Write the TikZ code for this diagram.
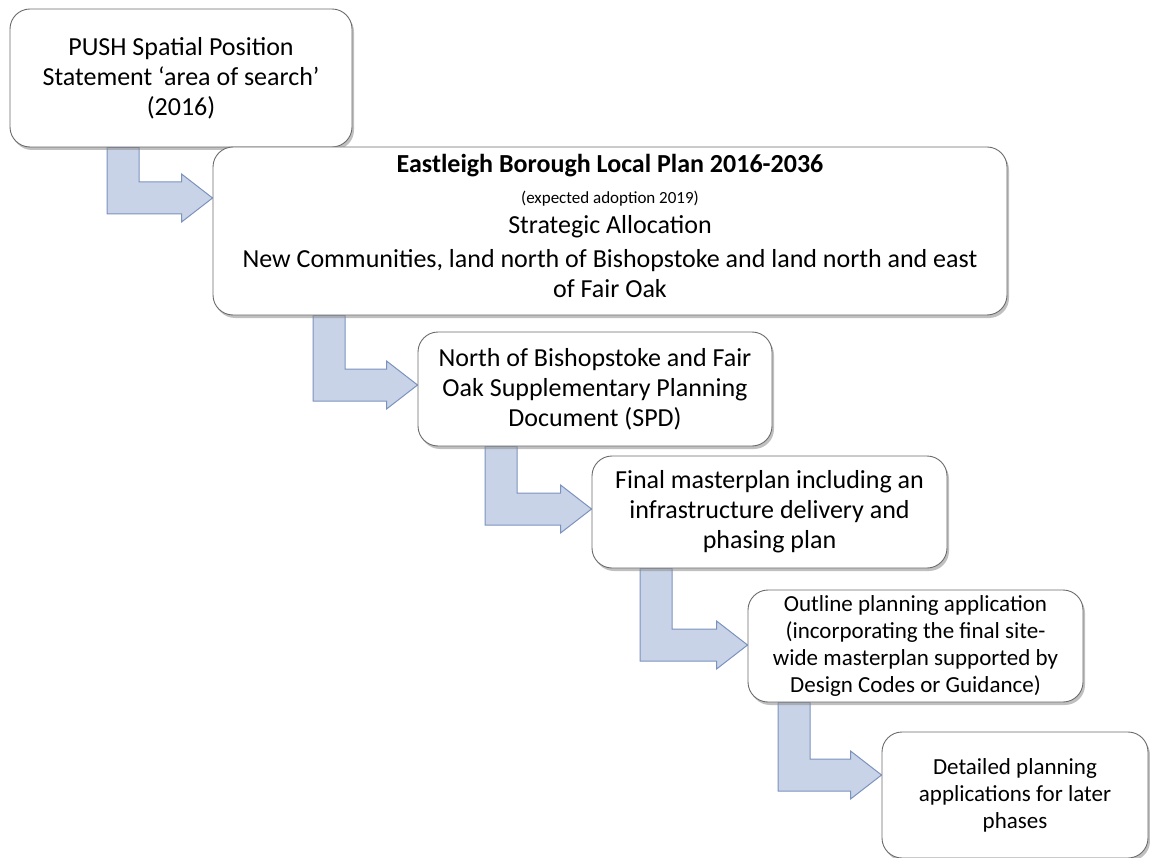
\documentclass[tikz,border=0pt]{standalone}
\usepackage{fontspec}
\setmainfont{Carlito}
\usepackage{tikz}
\usetikzlibrary{calc,shadows,backgrounds}
\definecolor{BoxLine}{rgb}{0.42,0.42,0.42}
\definecolor{ArrowFill}{RGB}{200,211,232}
\definecolor{ArrowLine}{RGB}{124,146,190}

\tikzset{
  stage/.style={draw=BoxLine,line width=0.9pt,fill=white,rounded corners=20pt,
    align=center,inner sep=0pt,
    drop shadow={shadow xshift=2pt,shadow yshift=-3pt,fill=black!45,opacity=0.55}},
  bigtext/.style={font=\fontsize{26}{30}\selectfont},
  smalltext/.style={font=\fontsize{23}{27}\selectfont},
  flowarrow/.style={fill=ArrowFill,draw=ArrowLine,line width=1pt,line join=miter}
}

% from node, to node, stem x, tip y
\newcommand{\bentarrow}[4]{%
  \path[flowarrow] (#1.south -| #3,0) -- ({#3},{#4+16})
    -- ($(#2.west |- 0,#4)+(-31,16)$) -- ++(0,8) -- (#2.west |- 0,#4)
    -- ($(#2.west |- 0,#4)+(-31,-24)$) -- ++(0,8) -- ({#3+32},{#4-16})
    -- ($(#1.south -| #3,0)+(32,0)$) -- cycle;}

\begin{document}
\begin{tikzpicture}[x=1pt,y=-1pt]
  \useasboundingbox (0,0) rectangle (1150,858);
  \node[stage,bigtext,minimum width=342pt,minimum height=138pt] (push) at (181,78)
    {PUSH Spatial Position\\Statement `area of search'\\(2016)};
  \node[stage,bigtext,minimum width=794pt,minimum height=168pt] (localplan) at (610,231)
    {\textbf{Eastleigh Borough Local Plan 2016-2036}\\[1pt]
     {\fontsize{17}{20}\selectfont (expected adoption 2019)}\\[0pt]
     Strategic Allocation\\[4pt]
     New Communities, land north of Bishopstoke and land north and east\\of Fair Oak\\[-19pt]\mbox{}};
  \node[stage,bigtext,minimum width=354pt,minimum height=114pt] (spd) at (595,389)
    {North of Bishopstoke and Fair\\Oak Supplementary Planning\\Document (SPD)};
  \node[stage,bigtext,minimum width=355pt,minimum height=112pt] (masterplan) at (769.5,512)
    {Final masterplan including an\\infrastructure delivery and\\phasing plan};
  \node[stage,smalltext,minimum width=335pt,minimum height=112pt] (outline) at (915.5,646)
    {Outline planning application\\(incorporating the final site-\\wide masterplan supported by\\Design Codes or Guidance)};
  \node[stage,smalltext,minimum width=266pt,minimum height=126pt] (detailed) at (1015,795)
    {Detailed planning\\applications for later\\phases};

  \begin{scope}[on background layer]
    \bentarrow{push}{localplan}{107}{198}
    \bentarrow{localplan}{spd}{313}{385}
    \bentarrow{spd}{masterplan}{485}{509}
    \bentarrow{masterplan}{outline}{640}{645}
    \bentarrow{outline}{detailed}{778}{775}
  \end{scope}
\end{tikzpicture}
\end{document}
